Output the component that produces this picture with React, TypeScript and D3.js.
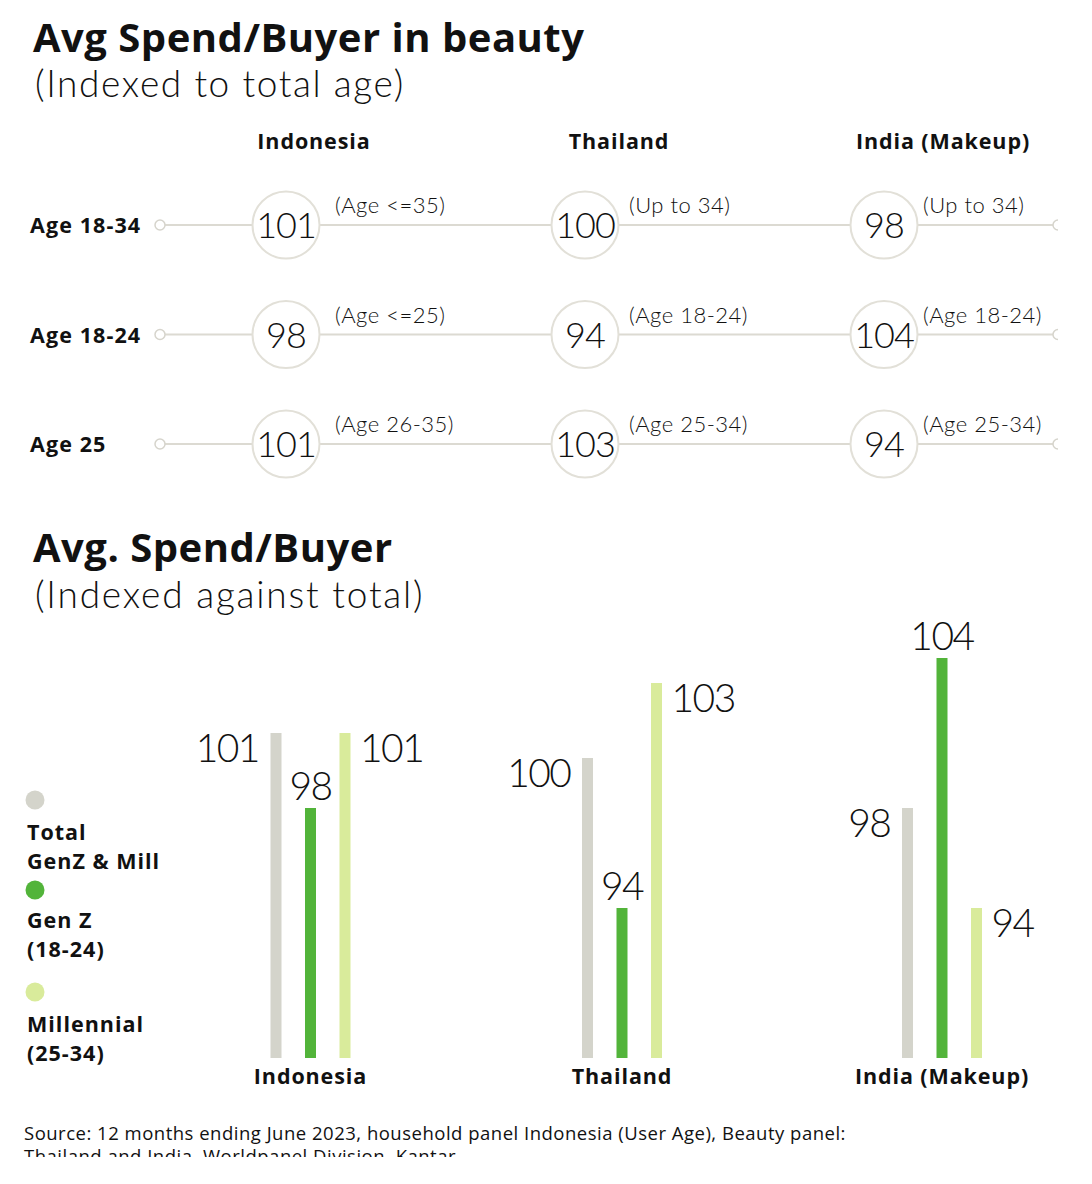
import React from "react";
import * as d3 from "d3";

// ---------- data ----------
const countries = ["Indonesia", "Thailand", "India (Makeup)"];
const ageRows = ["Age 18-34", "Age 18-24", "Age 25"];
const indexValues = [
  [101, 100, 98],
  [98, 94, 104],
  [101, 103, 94],
];
const ageNotes = [
  ["(Age <=35)", "(Up to 34)", "(Up to 34)"],
  ["(Age <=25)", "(Age 18-24)", "(Age 18-24)"],
  ["(Age 26-35)", "(Age 25-34)", "(Age 25-34)"],
];
const seriesNames = ["Total GenZ & Mill", "Gen Z (18-24)", "Millennial (25-34)"];
const legendLines = [["Total", "GenZ & Mill"], ["Gen Z", "(18-24)"], ["Millennial", "(25-34)"]];
const seriesColors = ["#d4d4cb", "#52b43a", "#d9eb9b"];
const totalValues = [101, 100, 98];
const genZValues = [98, 94, 104];
const millValues = [101, 103, 94];

const BOLD = "'Open Sans', Lato, sans-serif";
const LIGHT = "Lato, 'Open Sans', sans-serif";

export default function App() {
  const W = 1092, H = 1184;

  const circX = d3.scalePoint<string>().domain(countries).range([286, 884]);
  const noteX = d3.scalePoint<string>().domain(countries).range([335, 923]);
  const headerX = d3.scaleOrdinal<string, number>().domain(countries).range([314, 619, 943]);
  const rowY = d3.scalePoint<string>().domain(ageRows).range([225, 444]);

  const y = d3.scaleLinear().domain([88, 104]).range([1058, 658]);
  const groupX = d3.scaleOrdinal<string, number>().domain(countries).range([310.5, 622, 942]);
  const offX = d3.scalePoint<string>().domain(seriesNames).range([-34.5, 34.5]);
  const barW = 11;
  const seriesVals = [totalValues, genZValues, millValues];

  return (
    <svg width={W} height={H} style={{ position: "absolute", left: 0, top: 0, background: "#fff" }} fontFamily={LIGHT}>
      <defs>
        <clipPath id="rowclip"><rect x={0} y={0} width={1058} height={H} /></clipPath>
        <clipPath id="srcclip"><rect x={0} y={0} width={W} height={1157} /></clipPath>
      </defs>
      <text x={33} y={52} fontSize={40} fontWeight={700} letterSpacing={0.5} fontFamily={BOLD} fill="#111">Avg Spend/Buyer in beauty</text>
      <text x={35} y={97} fontSize={37} fontWeight={300} letterSpacing={1.6} fill="#111">(Indexed to total age)</text>

      {countries.map((c) => (
        <text key={c} x={headerX(c)} y={149} textAnchor="middle" fontSize={21.5} fontWeight={700} letterSpacing={0.9} fontFamily={BOLD} fill="#111">{c}</text>
      ))}

      {ageRows.map((r, ri) => {
        const yy = rowY(r)!;
        return (
          <g key={r}>
            <text x={30} y={yy + 8} fontSize={21.5} fontWeight={700} letterSpacing={1.1} fontFamily={BOLD} fill="#111">{r}</text>
            <g clipPath="url(#rowclip)">
              <line x1={165} x2={1053} y1={yy} y2={yy} stroke="#dcdad2" strokeWidth={2} />
              <circle cx={160} cy={yy} r={5} fill="#fff" stroke="#d6d4cc" strokeWidth={1.5} />
              <circle cx={1058} cy={yy} r={5} fill="#fff" stroke="#d6d4cc" strokeWidth={1.5} />
            </g>
            {countries.map((c, ci) => {
              const cx = circX(c)!;
              return (
                <g key={c}>
                  <circle cx={cx} cy={yy} r={33.5} fill="#fff" stroke="#e2e0d8" strokeWidth={2} />
                  <text x={cx} y={yy + 13} textAnchor="middle" fontSize={36} fontWeight={300} letterSpacing={-1} fill="#111">{indexValues[ri][ci]}</text>
                  <text x={noteX(c)} y={yy - 12} fontSize={22} fontWeight={300} letterSpacing={0.5} fill="#111">{ageNotes[ri][ci]}</text>
                </g>
              );
            })}
          </g>
        );
      })}

      <text x={33} y={562} fontSize={40} fontWeight={700} letterSpacing={0.5} fontFamily={BOLD} fill="#111">Avg. Spend/Buyer</text>
      <text x={35} y={608} fontSize={37} fontWeight={300} letterSpacing={1.8} fill="#111">(Indexed against total)</text>

      {legendLines.map((lines, i) => {
        const cy = [800, 890, 992][i];
        return (
          <g key={i}>
            <circle cx={35} cy={cy} r={9.5} fill={seriesColors[i]} />
            {lines.map((t, j) => (
              <text key={j} x={27} y={cy + 40 + j * 29 - (i === 1 ? 2 : 0)} fontSize={21.5} fontWeight={700} letterSpacing={1} fontFamily={BOLD} fill="#111">{t}</text>
            ))}
          </g>
        );
      })}

      {countries.map((c, ci) => (
        <g key={c}>
          {seriesNames.map((s, si) => {
            const v = seriesVals[si][ci];
            const bx = groupX(c)! + offX(s)!;
            const top = y(v);
            let lx = bx, ly = top - 8, anchor: "start" | "middle" | "end" = "middle";
            if (si === 0) { lx = bx - 17; ly = top + 29; anchor = "end"; }
            if (si === 2) { lx = bx + 15; ly = top + 29; anchor = "start"; }
            return (
              <g key={s}>
                <rect x={bx - barW / 2} y={top} width={barW} height={y(88) - top} fill={seriesColors[si]} />
                <text x={lx} y={ly} textAnchor={anchor} fontSize={39} fontWeight={300} letterSpacing={-1.5} fill="#111">{v}</text>
              </g>
            );
          })}
          <text x={groupX(c)} y={1084} textAnchor="middle" fontSize={21.5} fontWeight={700} letterSpacing={0.9} fontFamily={BOLD} fill="#111">{c}</text>
        </g>
      ))}

      <g clipPath="url(#srcclip)">
        <text x={24} y={1140} fontSize={18.5} letterSpacing={0.5} fontFamily={BOLD} fill="#111">Source: 12 months ending June 2023, household panel Indonesia (User Age), Beauty panel:</text>
        <text x={24} y={1163} fontSize={18.5} letterSpacing={0.5} fontFamily={BOLD} fill="#111">Thailand and India, Worldpanel Division, Kantar</text>
      </g>
    </svg>
  );
}
